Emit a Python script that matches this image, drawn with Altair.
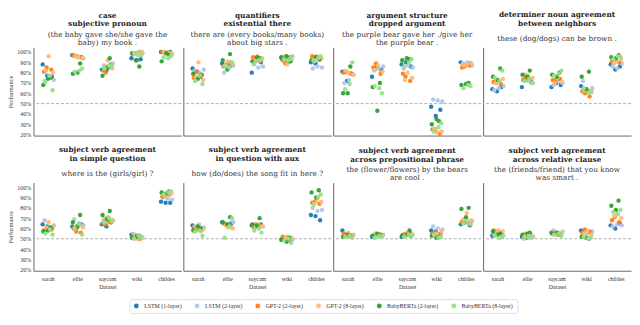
import altair as alt
import pandas as pd

DATASETS = ["sarah", "ellie", "saycam", "wiki", "childes"]
MODELS = ["LSTM (1-layer)", "LSTM (2-layer)", "GPT-2 (2-layer)",
          "GPT-2 (8-layer)", "BabyBERTa (2-layer)", "BabyBERTa (8-layer)"]
COLORS = ["#1f77b4", "#aec7e8", "#ff7f0e", "#ffbb78", "#2ca02c", "#98df8a"]
YTICKS = [20, 30, 40, 50, 60, 70, 80, 90, 100]
CHANCE = [50]

# values: [dataset][model][seed]  (percent)
CASE_PRON = [
    [[88, 77, 76], [72, 77, 73], [85, 83, 81], [96, 80, 82], [75, 68, 74], [63, 71, 77]],
    [[97, 96, 95], [96, 95, 94], [96, 95, 97], [95, 94, 96], [89, 79, 80], [84, 81, 82]],
    [[83, 82, 88], [87, 86, 89], [80, 85, 82], [92, 84, 86], [94, 77, 85], [86, 84, 87]],
    [[94, 92, 93], [98, 97, 99], [99, 100, 98], [99, 100, 98], [86, 99, 92], [97, 99, 100]],
    [[100, 99, 100], [100, 99, 98], [100, 99, 100], [100, 99, 100], [97, 91, 99], [96, 95, 94]],
]
QUANT_THERE = [
    [[84, 81, 78], [82, 80, 83], [81, 78, 75], [90, 73, 76], [76, 79, 74], [69, 72, 77]],
    [[89, 88, 87], [80, 85, 87], [88, 90, 86], [91, 89, 87], [98, 92, 83], [90, 86, 85]],
    [[80, 92, 90], [88, 85, 86], [93, 91, 95], [96, 94, 92], [94, 91, 95], [93, 89, 92]],
    [[95, 93, 91], [94, 92, 96], [89, 95, 92], [88, 93, 96], [91, 94, 96], [95, 93, 92]],
    [[90, 89, 93], [84, 86, 85], [95, 93, 96], [96, 94, 91], [93, 92, 95], [96, 92, 94]],
]
ARG_DROPPED = [
    [[81, 72, 79], [70, 73, 78], [81, 79, 80], [80, 78, 82], [86, 60, 60], [90, 64, 69]],
    [[76, 85, 83], [82, 84, 86], [89, 79, 85], [87, 81, 83], [70, 66, 43], [60, 67, 65]],
    [[88, 90, 86], [84, 87, 85], [76, 72, 79], [80, 75, 73], [93, 92, 94], [93, 86, 90]],
    [[47, 38, 44], [54, 53, 52], [24, 21, 25], [22, 23, 26], [33, 30, 35], [31, 23, 27]],
    [[90, 88, 89], [89, 90, 87], [86, 87, 85], [88, 89, 87], [70, 68, 69], [67, 65, 68]],
]
DET_NOUN = [
    [[64, 62, 66], [63, 65, 67], [70, 69, 71], [72, 74, 70], [84, 76, 73], [82, 75, 72]],
    [[66, 73, 71], [74, 72, 70], [76, 74, 73], [77, 75, 78], [82, 78, 76], [70, 72, 74]],
    [[66, 70, 68], [68, 72, 70], [72, 74, 73], [75, 71, 70], [80, 78, 76], [82, 77, 79]],
    [[67, 64, 62], [72, 63, 65], [60, 57, 62], [64, 61, 63], [81, 76, 64], [62, 65, 60]],
    [[88, 83, 86], [86, 84, 89], [92, 90, 91], [91, 93, 89], [97, 95, 94], [95, 93, 96]],
]
SVA_SIMPLE_Q = [
    [[64, 62, 60], [68, 61, 63], [60, 59, 58], [66, 62, 61], [61, 57, 58], [54, 55, 59]],
    [[62, 61, 64], [69, 65, 63], [57, 56, 60], [63, 61, 62], [73, 66, 62], [54, 60, 64]],
    [[64, 62, 66], [69, 67, 68], [64, 66, 65], [71, 67, 70], [77, 73, 69], [68, 66, 70]],
    [[54, 53, 52], [55, 53, 51], [51, 50, 52], [50, 51, 52], [53, 51, 52], [52, 50, 53]],
    [[86, 85, 85], [90, 89, 88], [92, 93, 91], [93, 94, 92], [96, 95, 94], [96, 93, 95]],
]
SVA_Q_AUX = [
    [[63, 61, 60], [62, 64, 61], [59, 58, 60], [61, 59, 62], [60, 58, 62], [53, 57, 58]],
    [[66, 64, 65], [65, 63, 66], [64, 62, 65], [61, 60, 63], [71, 66, 64], [70, 51, 62]],
    [[63, 62, 64], [61, 63, 62], [64, 63, 62], [64, 62, 63], [70, 64, 63], [56, 58, 60]],
    [[49, 50, 48], [50, 51, 49], [51, 50, 52], [52, 51, 50], [51, 49, 47], [46, 48, 50]],
    [[73, 72, 68], [80, 77, 78], [86, 84, 85], [88, 86, 84], [97, 95, 90], [93, 83, 90]],
]
SVA_PREP = [
    [[58, 54, 53], [55, 53, 54], [54, 52, 55], [56, 53, 52], [53, 52, 54], [51, 52, 53]],
    [[52, 54, 53], [53, 52, 54], [55, 54, 53], [54, 53, 55], [54, 53, 55], [52, 51, 53]],
    [[52, 54, 53], [53, 55, 54], [55, 56, 54], [56, 54, 53], [58, 53, 54], [53, 52, 54]],
    [[58, 57, 55], [62, 60, 59], [56, 54, 55], [55, 57, 54], [52, 53, 51], [52, 54, 51]],
    [[64, 66, 63], [68, 66, 67], [67, 65, 66], [75, 68, 69], [80, 79, 71], [64, 65, 67]],
]
SVA_REL = [
    [[53, 54, 55], [54, 55, 53], [57, 56, 58], [58, 57, 56], [55, 57, 54], [52, 53, 51]],
    [[52, 51, 53], [50, 51, 52], [53, 54, 52], [54, 53, 55], [56, 54, 55], [51, 52, 53]],
    [[56, 55, 54], [58, 56, 57], [55, 54, 56], [54, 56, 55], [54, 55, 56], [53, 54, 55]],
    [[58, 57, 56], [56, 55, 57], [59, 57, 56], [57, 54, 55], [50, 52, 51], [51, 52, 50]],
    [[63, 60, 65], [62, 64, 63], [71, 66, 68], [73, 70, 72], [87, 82, 78], [78, 76, 74]],
]

TITLES = [
    (["case", "subjective pronoun"], ["(the baby gave she/she gave the", "baby) my book ."], CASE_PRON),
    (["quantifiers", "existential there"], ["there are (every books/many books)", "about big stars ."], QUANT_THERE),
    (["argument structure", "dropped argument"], ["the purple bear gave her ./give her", "the purple bear ."], ARG_DROPPED),
    (["determiner noun agreement", "between neighbors"], ["these (dog/dogs) can be brown ."], DET_NOUN),
    (["subject verb agreement", "in simple question"], ["where is the (girls/girl) ?"], SVA_SIMPLE_Q),
    (["subject verb agreement", "in question with aux"], ["how (do/does) the song fit in here ?"], SVA_Q_AUX),
    (["subject verb agreement", "across prepositional phrase"], ["the (flower/flowers) by the bears", "are cool ."], SVA_PREP),
    (["subject verb agreement", "across relative clause"], ["the (friends/friend) that you know", "was smart ."], SVA_REL),
]

W, H = 151, 90
YDOM = [19, 104.5]
SERIF = "Liberation Serif"
TSERIF = "DejaVu Serif"


def make_df(vals):
    rows = []
    for d, ds in enumerate(DATASETS):
        k = 0
        for m, model in enumerate(MODELS):
            for v in vals[d][m]:
                rows.append({"Dataset": ds, "Model": model, "order": m,
                             "slot": (k * 7) % 18, "Performance": v})
                k += 1
    return pd.DataFrame(rows)


def panel(idx):
    tlines, sub, vals = TITLES[idx]
    row, col = divmod(idx, 4)
    one = len(sub) == 1
    title = alt.TitleParams(
        text=tlines, subtitle=sub, font=TSERIF, fontSize=7.5, fontWeight="bold",
        lineHeight=9, color="#222", subtitleFont=TSERIF, subtitleFontSize=7.5,
        subtitleLineHeight=8.5, subtitleColor="#333",
        subtitlePadding=7.5 if one else 3, offset=5.5 if one else 1,
        anchor="middle", frame="group")
    if row == 1:
        xaxis = alt.Axis(labelAngle=0, ticks=False, labelFont=SERIF, labelFontSize=6,
                         labelPadding=5, title="Dataset", titleFont=SERIF,
                         titleFontSize=6, titleFontWeight="normal", titlePadding=2,
                         titleColor="#333", labelColor="#333")
    else:
        xaxis = alt.Axis(labels=False, ticks=False, title=None)
    if col == 0:
        yaxis = alt.Axis(values=YTICKS,
                         labelExpr="datum.value + '%'", ticks=False, labelFont=SERIF,
                         labelFontSize=6, labelPadding=3, labelColor="#333",
                         labelOverlap=False, labelBound=False, labelFlush=False,
                         title="Performance", titleFont=SERIF, titleFontSize=6.5,
                         titleFontWeight="normal", titleColor="#333", titlePadding=3)
    else:
        yaxis = alt.Axis(labels=False, ticks=False, title=None)
    yscale = alt.Scale(domain=YDOM, nice=False, zero=False)
    df = make_df(vals)
    pts = alt.Chart(df).mark_circle(size=20, opacity=0.95).encode(
        x=alt.X("Dataset:N", sort=DATASETS, axis=xaxis,
                scale=alt.Scale(paddingInner=0.6, paddingOuter=0.3)),
        xOffset=alt.XOffset("slot:O", scale=alt.Scale(domain=list(range(18)))),
        y=alt.Y("Performance:Q", axis=yaxis, scale=yscale),
        color=alt.Color("Model:N", sort=MODELS,
                        scale=alt.Scale(domain=MODELS, range=COLORS),
                        legend=alt.Legend(orient="none", legendX=98, legendY=257,
                                          direction="horizontal", columns=6, title=None,
                                          labelFont=SERIF, labelFontSize=6,
                                          labelColor="#333", symbolType="circle",
                                          symbolSize=25, symbolStrokeWidth=0,
                                          columnPadding=12, labelOffset=5,
                                          strokeColor="#ddd", fillColor="white",
                                          padding=4, cornerRadius=2)),
        order=alt.Order("order:Q"),
    )
    rule = alt.Chart(pd.DataFrame({"Performance": CHANCE})).mark_rule(
        color="#999", strokeDash=[3, 2], strokeWidth=0.8).encode(
        y=alt.Y("Performance:Q", axis=yaxis, scale=yscale))
    return alt.layer(rule, pts).properties(width=W, height=H, title=title)


rows = [alt.hconcat(*[panel(r * 4 + c) for c in range(4)], spacing=0) for r in range(2)]
chart = alt.vconcat(*rows, spacing=9).properties(padding=0).configure_view(
    stroke=None).configure_axis(grid=False, domainColor="#666", domainWidth=1,
                                labelOverlap=False)

chart.save("out.html", embed_options={"renderer": "svg", "actions": False})
